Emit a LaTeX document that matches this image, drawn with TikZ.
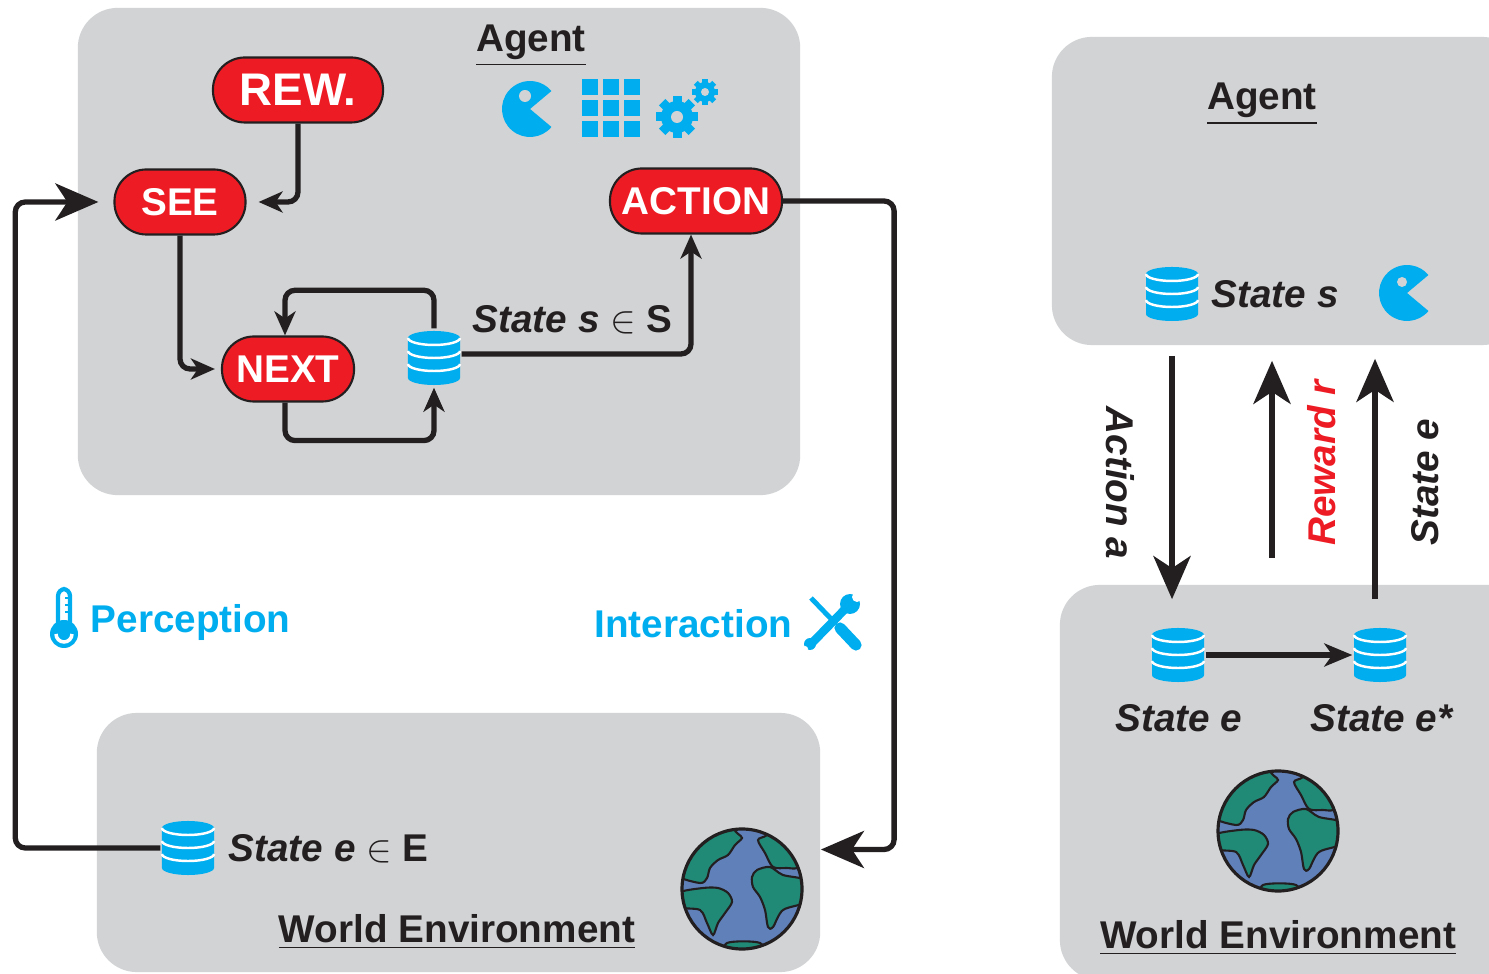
\documentclass[tikz,border=0pt]{standalone}
\usepackage{fontspec}
\setmainfont{Liberation Sans}
\usetikzlibrary{arrows.meta}

\definecolor{boxgray}{RGB}{209,211,212}
\definecolor{pillred}{RGB}{237,28,36}
\definecolor{iconblue}{RGB}{0,174,239}
\definecolor{seablue}{RGB}{96,128,186}
\definecolor{landgreen}{RGB}{32,138,118}
\definecolor{inkblack}{RGB}{35,31,32}

\tikzset{
  globe/.pic={
    \begin{scope}
      \clip (0,0) circle (60);
      \fill[seablue] (0,0) circle (60);
      % Americas
      \filldraw[landgreen, draw=inkblack, line width=0.6pt] plot[smooth cycle] coordinates
        {(-50,-62) (-20,-70) (-5,-56) (0,-51) (-7,-44) (-14,-34) (-24,-29) (-32,-21) (-35,-11) (-42,-6) (-66,-14) (-66,-34)};
      \filldraw[landgreen, draw=inkblack, line width=0.6pt] plot[smooth cycle] coordinates
        {(-64,4) (-39,-1) (-24,-1) (-14,4) (-10,13) (-17,24) (-24,34) (-29,46) (-35,34) (-42,21) (-62,18)};
      % Africa and Europe
      \filldraw[landgreen, draw=inkblack, line width=0.6pt] plot[smooth cycle] coordinates
        {(15,-19) (28,-22) (41,-14) (66,-8) (66,12) (41,21) (31,38) (26,38) (23,21) (18,8) (11,-2) (10,-12)};
      \filldraw[landgreen, draw=inkblack, line width=0.6pt] plot[smooth cycle] coordinates
        {(16,-49) (25,-54) (40,-70) (70,-50) (62,-29) (55,-21) (45,-21) (31,-22) (23,-36)};
      \filldraw[landgreen, draw=inkblack, line width=0.6pt] plot[smooth cycle] coordinates
        {(-15,54) (18,54) (20,70) (-15,70)};
    \end{scope}
    \draw[inkblack, line width=0.9pt] (0,0) circle (60);
  }
}

\begin{document}
\begin{tikzpicture}[x=0.01cm, y=-0.01cm,
    panel/.style={rectangle, rounded corners=4mm, fill=boxgray, inner sep=0pt},
    pill/.style={rectangle, rounded corners=3.2mm, fill=pillred, draw=inkblack, line width=0.6pt,
      text=white, font=\fontsize{11}{13}\selectfont\bfseries, minimum height=6.5mm, inner sep=0pt},
    db/.style={rectangle, minimum width=5.4mm, minimum height=5.8mm, inner sep=0pt,
      path picture={
        \begin{scope}[shift={(path picture bounding box.center)}, x=1cm, y=1cm]
          \fill[iconblue] (-0.26,0.2) -- (-0.26,-0.2)
            arc[start angle=180, end angle=360, x radius=0.26, y radius=0.07] -- (0.26,0.2)
            arc[start angle=0, end angle=180, x radius=0.26, y radius=0.07] -- cycle;
          \foreach \h in {0.2,0.07,-0.06}
            \draw[white, line width=0.7pt] (-0.26,\h) arc[start angle=180, end angle=360, x radius=0.26, y radius=0.07];
        \end{scope}}},
    lbl/.style={font=\fontsize{11}{13}\selectfont\bfseries, text=inkblack, inner sep=0pt},
    flow/.style={draw=inkblack, line width=1.5pt, rounded corners=1mm,
      -{Stealth[length=2.4mm, width=2.1mm, inset=0.7mm]}},
    midflow/.style={flow, -{Stealth[length=2.8mm, width=2.3mm, inset=0.8mm]}},
    bigflow/.style={flow, -{Stealth[length=4.3mm, width=3.7mm, inset=1.2mm]}}]

  \path[fill=white, use as bounding box] (0,0) rectangle (1489,974);

  % Panels
  \node[panel, minimum width=7.22cm, minimum height=4.87cm] (agentL) at (439,251.5) {};
  \node[panel, minimum width=7.23cm, minimum height=2.59cm] (envL) at (458.5,842.5) {};
  \node[panel, minimum width=4.7cm, minimum height=3.08cm] (agentR) at (1287,191) {};
  \node[panel, minimum width=4.7cm, minimum height=3.95cm] (envR) at (1295,782.5) {};

  \node[lbl] (agentTitle) at (531,46) {\underline{Agent}};
  \node[lbl] (agentTitleR) at (1262,104) {\underline{Agent}};
  \node[lbl] (worldTitle) at (457,932) {\underline{World Environment}};
  \node[lbl] (worldTitleR) at (1278,938) {\underline{World Environment}};

  % Agent loop
  \node[pill, minimum width=1.70cm, font=\fontsize{13}{15}\selectfont\bfseries] (rew) at (298,90) {REW.};
  \node[pill, minimum width=1.31cm] (see) at (180,202) {SEE};
  \node[pill, minimum width=1.32cm] (next) at (288,369) {NEXT};
  \node[pill, minimum width=1.72cm] (action) at (696,201) {ACTION};

  \node[db] (dbs) at (434,358) {};
  \node[db] (dbe) at (188,848) {};
  \node[lbl, anchor=west] (stateS) at (472,320) {\textit{State s} $\in$ S};
  \node[lbl, anchor=west] (stateE) at (228,849) {\textit{State e} $\in$ E};

  \draw[flow, shorten >=1.2mm] (rew.south) |- (see.east);
  \draw[flow, shorten >=0.6mm] (see.south) |- (next.west);
  \draw[flow] (dbs.north) -- ++(0,-38) -| ([xshift=-0.03cm]next.north);
  \draw[flow] ([xshift=-0.03cm]next.south) -- ++(0,38) -| (dbs.south);
  \draw[flow] ([yshift=0.04cm]dbs.east) -| ([xshift=-0.05cm]action.south);

  % Outer loop
  \draw[bigflow] (action.east) -- ++(111,0) |- ([yshift=-0.07cm]envL.east);
  \draw[bigflow, shorten >=1.5mm] (dbe.west) -- ++(-145,0) |- (see.west);

  \node[lbl, text=iconblue, anchor=west] (perception) at (90,623) {Perception};
  \node[lbl, text=iconblue, anchor=east] (interaction) at (793,624) {Interaction};

  % Icons
  \fill[iconblue] (530,109) -- ++(40:28) arc[start angle=40, end angle=320, radius=28] -- cycle;
  \fill[boxgray] (525,96) circle (6);
  \foreach \i in {0,1,2}
    \foreach \j in {0,1,2}
      \fill[iconblue] ({582+\i*21},{79+\j*21}) rectangle ++(16,16);
  \begin{scope}[shift={(677,117)}]
    \foreach \a in {0,45,...,315}
      \fill[iconblue, rotate=\a] (-4.5,0) rectangle (4.5,-21);
    \fill[iconblue] (0,0) circle (16);
    \fill[boxgray] (0,0) circle (6);
  \end{scope}
  \begin{scope}[shift={(705,92)}]
    \foreach \a in {0,45,...,315}
      \fill[iconblue, rotate=\a] (-2.8,0) rectangle (2.8,-13);
    \fill[iconblue] (0,0) circle (10);
    \fill[boxgray] (0,0) circle (4);
  \end{scope}

  \draw[iconblue, line width=1.2pt, rounded corners=0.07cm] (58,627) -- (58,589) -- (70,589) -- (70,627);
  \foreach \t in {598,605,612}
    \draw[iconblue, line width=0.8pt] (65,\t) -- (70,\t);
  \fill[iconblue] (64,634) circle (14);
  \draw[white, line width=1pt] (56,634) arc[start angle=180, end angle=0, radius=8];

  \draw[iconblue, line width=1.4pt] (811,598) -- (836,624);
  \draw[iconblue, line width=3.2pt, line cap=round] (840,628) -- (856,645);
  \draw[iconblue, line width=2.4pt] (811,644) -- (849,605);
  \fill[iconblue] (850,604) circle (10);
  \fill[white] (857,597) circle (5);
  \fill[iconblue] (810,644) circle (6);
  \fill[white] (805,649) circle (3);

  \pic at (742,889) {globe};

  % Right-hand view
  \node[db] (dbr) at (1172,294) {};
  \node[lbl, anchor=west] (stateR) at (1211,294) {\textit{State s}};
  \fill[iconblue] (1407,293) -- ++(40:28) arc[start angle=40, end angle=320, radius=28] -- cycle;
  \fill[boxgray] (1402,282) circle (5);

  \node[db] (dbr1) at (1178,655) {};
  \node[db] (dbr2) at (1380,655) {};
  \node[lbl] (stateR1) at (1179,718) {\textit{State e}};
  \node[lbl] (stateR2) at (1382,718) {\textit{State e*}};
  \draw[midflow] (dbr1.east) -- (dbr2.west);
  \pic at (1278,831) {globe};

  \coordinate (rewsrc) at (1272,558);
  \coordinate (stcol) at (1375,0);
  \draw[bigflow, line width=1.8pt, shorten <=1mm, shorten >=-1.5mm] (agentR.south -| dbr) -- (envR.north -| dbr);
  \draw[bigflow, line width=1.8pt, shorten >=1.5mm] (rewsrc) -- (agentR.south -| rewsrc);
  \draw[bigflow, line width=1.8pt, shorten <=-1.5mm, shorten >=1.3mm] (envR.north -| stcol) -- (agentR.south -| stcol);

  \node[lbl, rotate=-90] (actionLbl) at (1120,483) {\textit{Action a}};
  \node[lbl, rotate=90, text=pillred] (rewardLbl) at (1322,462) {\textit{Reward r}};
  \node[lbl, rotate=90] (stateLbl) at (1425,482) {\textit{State e}};

\end{tikzpicture}
\end{document}
